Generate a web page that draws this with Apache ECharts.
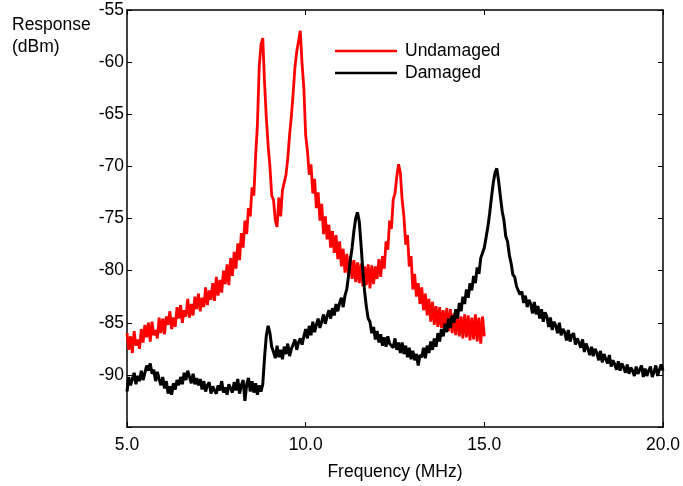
<!DOCTYPE html>
<html>
<head>
<meta charset="utf-8">
<script src="https://cdn.jsdelivr.net/npm/echarts@6/dist/echarts.min.js"></script>
<style>
html,body{margin:0;padding:0;background:#fff;}
#chart{width:683px;height:486px;}
</style>
</head>
<body>
<div id="chart"></div>
<script>
// Frequency sampling (MHz)
const freqStart = 5.0;
const freqStep = 0.05;

// X tick labels
const xTicks = [5, 10, 15, 20];
// Y tick labels
const yTicks = [-95, -90, -85, -80, -75, -70, -65, -60, -55];

// Undamaged response (dBm), 5.00 .. 15.00 MHz every 0.05 MHz
const undamaged = [
  -86.0, -87.6, -86.3, -87.9, -85.8, -87.2, -86.6, -87.5, -85.6, -86.9,
  -85.2, -86.4, -85.0, -86.8, -84.9, -86.2, -85.7, -86.5, -84.5, -86.0,
  -84.6, -86.1, -84.4, -85.2, -83.9, -85.6, -84.5, -85.4, -83.5, -84.6,
  -83.3, -85.0, -83.8, -84.4, -82.7, -84.5, -83.2, -84.3, -82.5, -83.7,
  -82.2, -83.9, -82.6, -83.5, -81.6, -83.3, -81.9, -82.8, -81.2, -82.9,
  -80.6, -82.4, -80.9, -82.1, -80.0, -81.3, -79.4, -81.4, -78.8, -80.5,
  -78.2, -79.8, -77.4, -79.0, -76.4, -77.8, -75.2, -76.5, -74.0, -74.8,
  -72.0, -72.8, -69.0, -66.0, -60.5, -58.3, -57.7, -62.0, -65.4, -68.0,
  -70.0, -72.8, -73.2, -75.2, -75.8, -73.0, -74.8, -72.3, -72.4, -70.8,
  -69.2, -67.0, -65.2, -63.0, -60.5, -59.0, -58.0, -57.0, -60.2, -62.5,
  -67.0, -68.5, -70.8, -69.8, -72.6, -71.2, -74.0, -72.5, -75.2, -73.6,
  -76.5, -74.8, -77.0, -75.6, -77.8, -76.2, -78.3, -76.6, -78.9, -77.2,
  -79.6, -77.9, -80.2, -78.4, -80.6, -78.6, -80.8, -79.0, -81.1, -79.2,
  -81.2, -79.3, -81.5, -79.6, -81.4, -79.4, -81.7, -79.5, -81.3, -79.6,
  -80.8, -78.9, -80.6, -78.6, -79.8, -77.2, -78.0, -75.2, -76.0, -73.2,
  -72.6, -71.0, -69.8, -70.6, -73.2, -74.8, -77.5, -76.6, -79.6, -78.6,
  -81.8, -80.3, -82.5, -81.2, -83.2, -81.6, -83.8, -82.2, -84.3, -82.7,
  -84.9, -83.0, -85.2, -83.4, -85.4, -83.5, -85.5, -83.8, -85.7, -83.6,
  -85.8, -83.7, -86.0, -84.1, -86.2, -84.0, -86.3, -84.4, -86.5, -84.2,
  -86.4, -84.3, -86.7, -84.5, -86.6, -84.2, -86.8, -84.5, -87.0, -84.4,
  -86.3
];

// Damaged response (dBm), 5.00 .. 20.00 MHz every 0.05 MHz
const damaged = [
  -91.6, -90.2, -91.0, -90.4, -89.8, -90.9, -90.1, -90.6, -89.6, -90.5,
  -89.8, -89.1, -89.6, -88.9, -89.9, -89.5, -90.6, -89.7, -90.4, -91.0,
  -90.2, -91.3, -90.6, -91.8, -91.1, -91.9, -90.8, -91.4, -90.5, -91.0,
  -90.2, -90.9, -89.8, -90.5, -89.6, -90.2, -90.8, -89.9, -90.9, -90.3,
  -91.0, -90.4, -91.4, -90.6, -91.6, -91.0, -90.7, -91.8, -91.1, -91.5,
  -91.8, -91.0, -91.5, -90.6, -91.7, -91.2, -91.9, -90.9, -91.3, -91.7,
  -90.7, -91.5, -90.4, -91.8, -91.0, -90.5, -92.5, -90.9, -90.3, -91.6,
  -90.6, -91.7, -90.8, -91.9, -91.0, -91.6, -90.9, -88.3, -86.2, -85.3,
  -86.0, -87.3, -87.8, -88.4, -87.2, -88.3, -87.6, -88.5, -87.3, -88.0,
  -87.0, -88.2, -87.5, -87.1, -86.6, -87.6, -86.9, -86.5, -87.1, -86.3,
  -85.6, -86.5, -85.3, -86.2, -84.9, -85.9, -85.2, -84.6, -85.5, -84.9,
  -84.2, -85.1, -84.4, -83.8, -84.6, -83.6, -84.3, -83.2, -83.9, -83.1,
  -82.6, -83.5, -82.4, -81.8, -80.5, -79.0, -77.8, -76.2, -75.0, -74.4,
  -75.3, -77.5, -80.0, -82.0, -83.5, -84.6, -84.9, -86.0, -85.4, -86.6,
  -85.8, -86.9, -86.1, -87.2, -86.4, -87.3, -86.3, -87.0, -86.9, -87.4,
  -86.5, -87.6, -86.9, -87.9, -86.9, -88.0, -87.2, -88.3, -87.4, -88.5,
  -87.7, -88.6, -88.0, -89.1, -88.1, -88.3, -87.4, -88.4, -87.2, -87.9,
  -86.8, -87.6, -86.5, -87.3, -86.0, -86.8, -85.6, -86.3, -85.1, -85.9,
  -84.6, -85.5, -84.3, -85.0, -83.7, -84.6, -83.1, -83.9, -82.5, -83.2,
  -81.8, -82.6, -81.2, -81.9, -80.5, -81.2, -79.7, -80.3, -78.8, -78.9,
  -77.8, -76.8, -75.8, -74.5, -73.0, -71.6, -70.6, -70.2, -71.4, -72.9,
  -74.3, -75.2, -76.7, -77.2, -78.5, -79.3, -80.4, -80.6, -81.5, -81.5,
  -82.3, -82.0, -83.1, -82.4, -83.5, -82.8, -83.2, -84.1, -83.0, -84.2,
  -83.4, -84.6, -83.7, -84.9, -84.0, -84.4, -85.4, -84.5, -85.7, -84.9,
  -85.3, -86.0, -85.0, -86.2, -85.6, -85.9, -86.7, -85.7, -86.8, -86.2,
  -86.0, -87.1, -86.5, -86.9, -87.4, -86.6, -87.8, -87.0, -87.5, -88.1,
  -87.3, -88.2, -87.5, -87.9, -88.6, -87.7, -88.8, -88.0, -88.5, -88.9,
  -88.1, -89.2, -88.6, -89.0, -89.5, -88.7, -89.6, -88.9, -89.3, -89.8,
  -89.0, -89.9, -89.3, -89.6, -90.1, -89.2, -89.9, -89.5, -89.1, -90.2,
  -89.4, -90.1, -89.6, -89.2, -90.2, -89.7, -89.1, -90.1, -89.5, -89.0,
  -89.6
];

const seriesNames = ['Undamaged', 'Damaged'];

function toPairs(values) {
  return values.map((v, i) => [Math.round((freqStart + i * freqStep) * 100) / 100, v]);
}

const FONT = 'Liberation Sans, Arial, sans-serif';
const FS = 17.5;

const chart = echarts.init(document.getElementById('chart'), null, {renderer: 'canvas'});

const xBase = {
  type: 'value', min: xTicks[0], max: xTicks[xTicks.length - 1], interval: 5,
  axisLine: {show: true, onZero: false, lineStyle: {color: '#000', width: 1.5}},
  axisTick: {show: true, inside: true, length: 5, lineStyle: {color: '#000', width: 1}},
  splitLine: {show: false}
};
const yBase = {
  type: 'value', min: yTicks[0], max: yTicks[yTicks.length - 1], interval: 5,
  axisLine: {show: true, onZero: false, lineStyle: {color: '#000', width: 1.5}},
  axisTick: {show: true, inside: true, length: 5, lineStyle: {color: '#000', width: 1}},
  splitLine: {show: false}
};

chart.setOption({
  animation: false,
  backgroundColor: '#fff',
  grid: {left: 127, right: 19, top: 10, bottom: 54, containLabel: false},
  legend: {
    orient: 'vertical',
    left: 335, top: 42, padding: 0,
    itemWidth: 62, itemHeight: 2.5, itemGap: 4,
    icon: 'rect',
    data: seriesNames,
    textStyle: {fontFamily: FONT, fontSize: FS, color: '#000', padding: [0, 0, 0, 3]}
  },
  xAxis: [
    Object.assign({}, xBase, {
      position: 'bottom',
      name: 'Frequency (MHz)', nameLocation: 'middle', nameGap: 36,
      nameTextStyle: {fontFamily: FONT, fontSize: FS, color: '#000'},
      axisLabel: {fontFamily: FONT, fontSize: FS, color: '#000', margin: 9,
        formatter: v => v.toFixed(1)}
    }),
    Object.assign({}, xBase, {position: 'top', axisLabel: {show: false}})
  ],
  yAxis: [
    Object.assign({}, yBase, {
      position: 'left',
      axisLabel: {fontFamily: FONT, fontSize: FS, color: '#000', margin: 3,
        formatter: v => (v === yTicks[0] ? '' : String(v))}
    }),
    Object.assign({}, yBase, {position: 'right', axisLabel: {show: false}})
  ],
  graphic: [
    {type: 'text', left: 12, top: 14,
      style: {text: 'Response\n(dBm)', fontFamily: FONT, fontSize: FS, fill: '#000', lineHeight: 22}}
  ],
  series: [
    {name: seriesNames[0], type: 'line', data: toPairs(undamaged), showSymbol: false, symbol: 'none',
      lineStyle: {color: '#ff0000', width: 2.8}, itemStyle: {color: '#ff0000'}, z: 2},
    {name: seriesNames[1], type: 'line', data: toPairs(damaged), showSymbol: false, symbol: 'none',
      lineStyle: {color: '#000000', width: 3}, itemStyle: {color: '#000000'}, z: 3}
  ]
});
</script>
</body>
</html>
